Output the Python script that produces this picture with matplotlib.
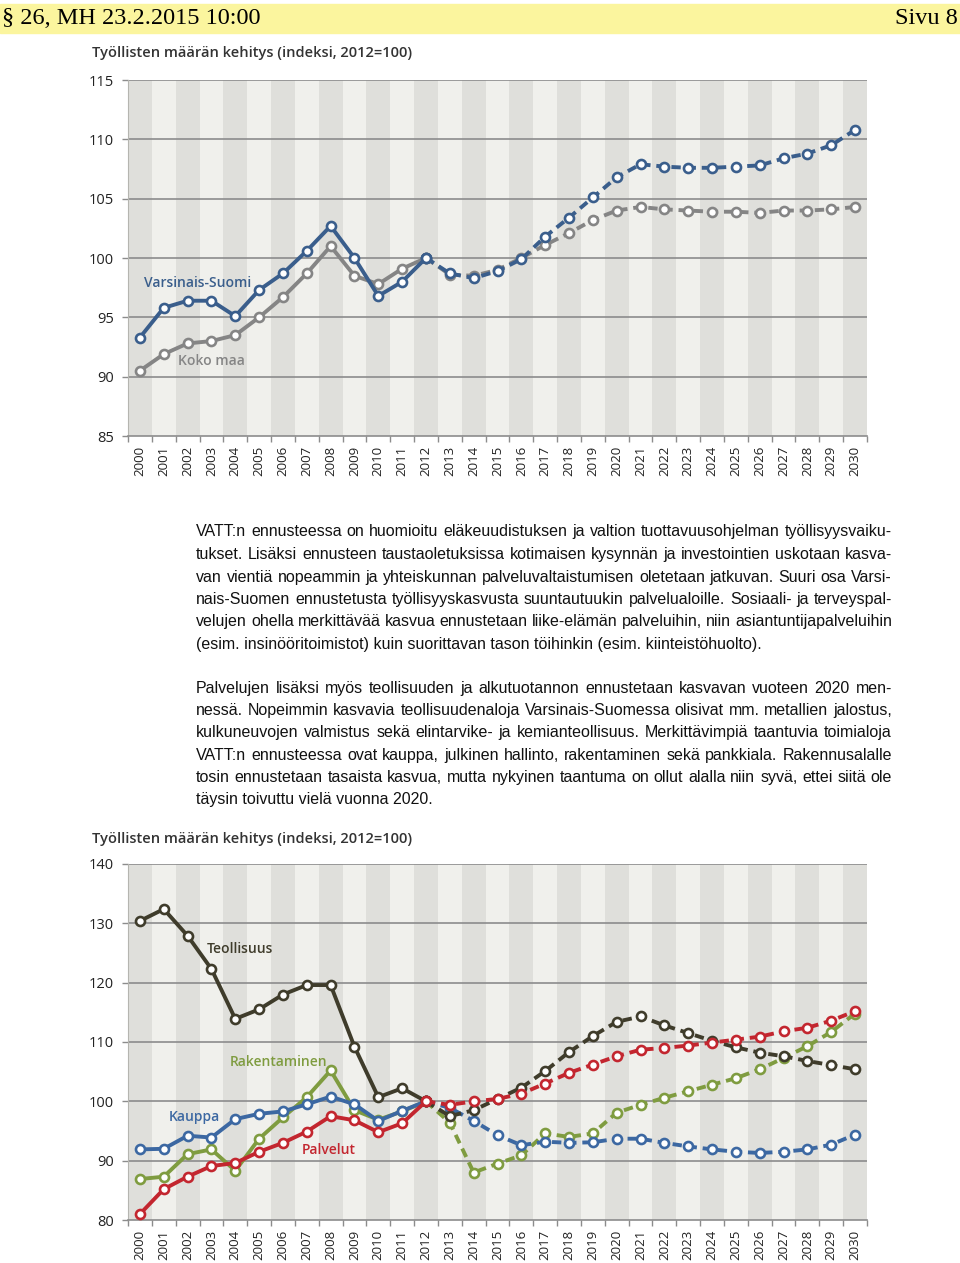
import numpy as np
import matplotlib
matplotlib.use("Agg")
import matplotlib.pyplot as plt
from matplotlib import font_manager
from matplotlib.font_manager import FontProperties

# years on the x axis
years = list(range(2000, 2031))
split_year = 2012

# chart 1: Varsinais-Suomi vs whole country
vs_suomi = [93.3, 95.8, 96.4, 96.4, 95.1, 97.3, 98.7, 100.6, 102.7, 100.0,
            96.8, 98.0, 100.0, 98.7, 98.3, 98.9, 99.9, 101.8, 103.4, 105.1,
            106.8, 107.9, 107.7, 107.6, 107.6, 107.7, 107.8, 108.4, 108.8, 109.5,
            110.8]
koko_maa = [90.5, 91.9, 92.8, 93.0, 93.5, 95.0, 96.7, 98.7, 101.0, 98.5,
            97.8, 99.1, 100.0, 98.6, 98.5, 99.0, 100.0, 101.1, 102.1, 103.2,
            104.0, 104.3, 104.1, 104.0, 103.9, 103.9, 103.8, 104.0, 104.0, 104.1,
            104.3]

# chart 2: by sector
teollisuus = [130.4, 132.4, 127.9, 122.3, 113.9, 115.5, 118.0, 119.6, 119.6, 109.2,
              100.7, 102.2, 100.0, 97.5, 98.5, 100.4, 102.3, 105.1, 108.3, 111.0,
              113.4, 114.3, 112.8, 111.5, 110.2, 109.1, 108.2, 107.6, 106.8, 106.1,
              105.4]
rakentaminen = [86.9, 87.3, 91.1, 91.9, 88.3, 93.7, 97.3, 100.7, 105.2, 98.5,
                96.9, 98.3, 100.0, 96.4, 88.0, 89.5, 90.9, 94.6, 94.0, 94.6,
                98.1, 99.4, 100.6, 101.7, 102.8, 103.9, 105.4, 107.3, 109.3, 111.7,
                114.8]
kauppa = [91.9, 92.0, 94.2, 93.9, 97.0, 97.9, 98.3, 99.5, 100.8, 99.5,
          96.7, 98.4, 100.0, 98.9, 96.7, 94.3, 92.6, 93.2, 93.0, 93.1,
          93.7, 93.7, 93.0, 92.4, 91.9, 91.5, 91.3, 91.5, 91.9, 92.7,
          94.4]
palvelut = [81.0, 85.2, 87.3, 89.1, 89.6, 91.5, 93.0, 94.9, 97.5, 96.8,
            94.8, 96.3, 100.0, 99.4, 100.0, 100.4, 101.3, 103.0, 104.8, 106.2,
            107.6, 108.7, 109.0, 109.4, 109.9, 110.4, 110.9, 111.8, 112.4, 113.6,
            115.2]

chart_title = "Työllisten määrän kehitys (indeksi, 2012=100)"
header_left = "§ 26, MH 23.2.2015 10:00"
header_right = "Sivu 8"

paragraphs = [
    ["VATT:n ennusteessa on huomioitu eläkeuudistuksen ja valtion tuottavuusohjelman työllisyysvaiku-",
     "tukset. Lisäksi ennusteen taustaoletuksissa kotimaisen kysynnän ja investointien uskotaan kasva-",
     "van vientiä nopeammin ja yhteiskunnan palveluvaltaistumisen oletetaan jatkuvan. Suuri osa Varsi-",
     "nais-Suomen ennustetusta työllisyyskasvusta suuntautuukin palvelualoille. Sosiaali- ja terveyspal-",
     "velujen ohella merkittävää kasvua ennustetaan liike-elämän palveluihin, niin asiantuntijapalveluihin",
     "(esim. insinööritoimistot) kuin suorittavan tason töihinkin (esim. kiinteistöhuolto)."],
    ["Palvelujen lisäksi myös teollisuuden ja alkutuotannon ennustetaan kasvavan vuoteen 2020 men-",
     "nessä. Nopeimmin kasvavia teollisuudenaloja Varsinais-Suomessa olisivat mm. metallien jalostus,",
     "kulkuneuvojen valmistus sekä elintarvike- ja kemianteollisuus. Merkittävimpiä taantuvia toimialoja",
     "VATT:n ennusteessa ovat kauppa, julkinen hallinto, rakentaminen sekä pankkiala. Rakennusalalle",
     "tosin ennustetaan tasaista kasvua, mutta nykyinen taantuma on ollut alalla niin syvä, ettei siitä ole",
     "täysin toivuttu vielä vuonna 2020."],
]


def pick_font(names):
    for n in names:
        try:
            font_manager.findfont(FontProperties(family=n), fallback_to_default=False)
            return n
        except Exception:
            pass
    return "DejaVu Sans"


body_font = pick_font(["Liberation Sans Narrow", "Liberation Sans"])
chart_font = pick_font(["Open Sans", "Noto Sans"])
serif_font = pick_font(["Liberation Serif", "DejaVu Serif"])

W, H = 960, 1263
fig = plt.figure(figsize=(W / 100, H / 100), dpi=100)
fig.patch.set_facecolor("white")


def fx(px):
    return px / W


def fy(py):
    return 1 - py / H


# header band
fig.patches.append(plt.Rectangle((0, fy(33)), 1, (33 - 4) / H, transform=fig.transFigure,
                                 color="#fbf59e", zorder=0))
fig.text(fx(2), fy(19), header_left, family=serif_font, fontsize=17.5, va="center", ha="left")
fig.text(fx(958), fy(19), header_right, family=serif_font, fontsize=17.5, va="center", ha="right")

BAND_DARK = "#dfdfdb"
BAND_LIGHT = "#f0f0ec"
GRID = "#8c8c8c"


def draw_panel(ax, ylim, yticks, series, labels):
    for i, yr in enumerate(years):
        ax.axvspan(yr - 0.5, yr + 0.5, color=BAND_DARK if i % 2 == 0 else BAND_LIGHT,
                   lw=0, zorder=0)
    for v in yticks[1:]:
        ax.axhline(v, color=GRID, lw=1.2, zorder=1)
    ax.set_xlim(years[0] - 0.5, years[-1] + 0.5)
    ax.set_ylim(*ylim)
    for s in ["top", "right"]:
        ax.spines[s].set_visible(False)
    ax.spines["left"].set_color("#b5b5b0")
    ax.spines["left"].set_linewidth(0.8)
    ax.spines["bottom"].set_color(GRID)
    ax.spines["bottom"].set_linewidth(1.2)
    ax.set_yticks(yticks)
    ax.set_yticklabels([str(v) for v in yticks], family=chart_font, fontsize=10.5, color="#222222")
    ax.tick_params(axis="y", length=4, width=1, color=GRID, pad=6)
    ax.set_xticks(years)
    ax.set_xticklabels([str(y) for y in years], rotation=90, family=chart_font,
                       fontsize=9.5, color="#222222")
    ax.set_xticks(np.arange(years[0] - 0.5, years[-1] + 1), minor=True)
    ax.tick_params(axis="x", which="major", length=0, pad=7)
    ax.tick_params(axis="x", which="minor", length=4, width=1, color=GRID)

    k = years.index(split_year)
    for vals, color in series:
        style = dict(color=color, lw=2.8, marker="o", ms=6.5, mfc="white", mec=color, mew=1.9)
        ax.plot(years[:k + 1], vals[:k + 1], ls="-", zorder=3, **style)
        ax.plot(years[k:], vals[k:], ls=(0, (2.4, 1.5)), zorder=3, **style)
    for text, x, y, color in labels:
        ax.text(x, y, text, color=color, family=chart_font, fontweight="semibold",
                fontsize=10, ha="center", va="center", zorder=4)


BLUE = "#3a5e8c"
GRAY = "#858585"
OLIVE = "#3f3c2b"
RED = "#c3262f"
GREEN = "#7f9c40"
KBLUE = "#3c68a2"

left, right = fx(128), fx(867)

# chart 1
fig.text(fx(92), fy(53), chart_title, family=chart_font, fontweight="semibold",
         fontsize=10.5, color="#333333", va="center", ha="left")
ax1 = fig.add_axes([left, fy(436), right - left, (436 - 80) / H])
draw_panel(ax1, (85, 115), [85, 90, 95, 100, 105, 110, 115],
           [(koko_maa, GRAY), (vs_suomi, BLUE)],
           [("Varsinais-Suomi", 2002.4, 97.9, BLUE), ("Koko maa", 2003.0, 91.3, GRAY)])

# chart 2
fig.text(fx(92), fy(839), chart_title, family=chart_font, fontweight="semibold",
         fontsize=10.5, color="#333333", va="center", ha="left")
ax2 = fig.add_axes([left, fy(1220), right - left, (1220 - 864) / H])
draw_panel(ax2, (80, 140), [80, 90, 100, 110, 120, 130, 140],
           [(rakentaminen, GREEN), (kauppa, KBLUE), (teollisuus, OLIVE), (palvelut, RED)],
           [("Teollisuus", 2004.2, 125.7, OLIVE), ("Rakentaminen", 2005.8, 106.6, GREEN),
            ("Kauppa", 2002.3, 97.4, KBLUE), ("Palvelut", 2007.9, 91.8, RED)])

# justified body text, last line of each paragraph left aligned
renderer = fig.canvas.get_renderer()
text_left, text_right = 196, 892
body_size = 11.5
line_y = [[530, 553, 576, 598, 620, 643], [687, 709, 731, 754, 776, 798]]
for para, ys in zip(paragraphs, line_y):
    for i, (line, y) in enumerate(zip(para, ys)):
        base = fy(y + 6)
        if i == len(para) - 1:
            fig.text(fx(text_left), base, line, family=body_font, fontsize=body_size,
                     va="baseline", ha="left", color="#111111")
            continue
        words = line.split(" ")
        objs = [fig.text(0, base, w, family=body_font, fontsize=body_size, va="baseline",
                         ha="left", color="#111111") for w in words]
        widths = [o.get_window_extent(renderer).width for o in objs]
        gap = (text_right - text_left - sum(widths)) / (len(words) - 1)
        x = text_left
        for o, w in zip(objs, widths):
            o.set_x(fx(x))
            x += w + gap

fig.savefig("out.png", dpi=100)
